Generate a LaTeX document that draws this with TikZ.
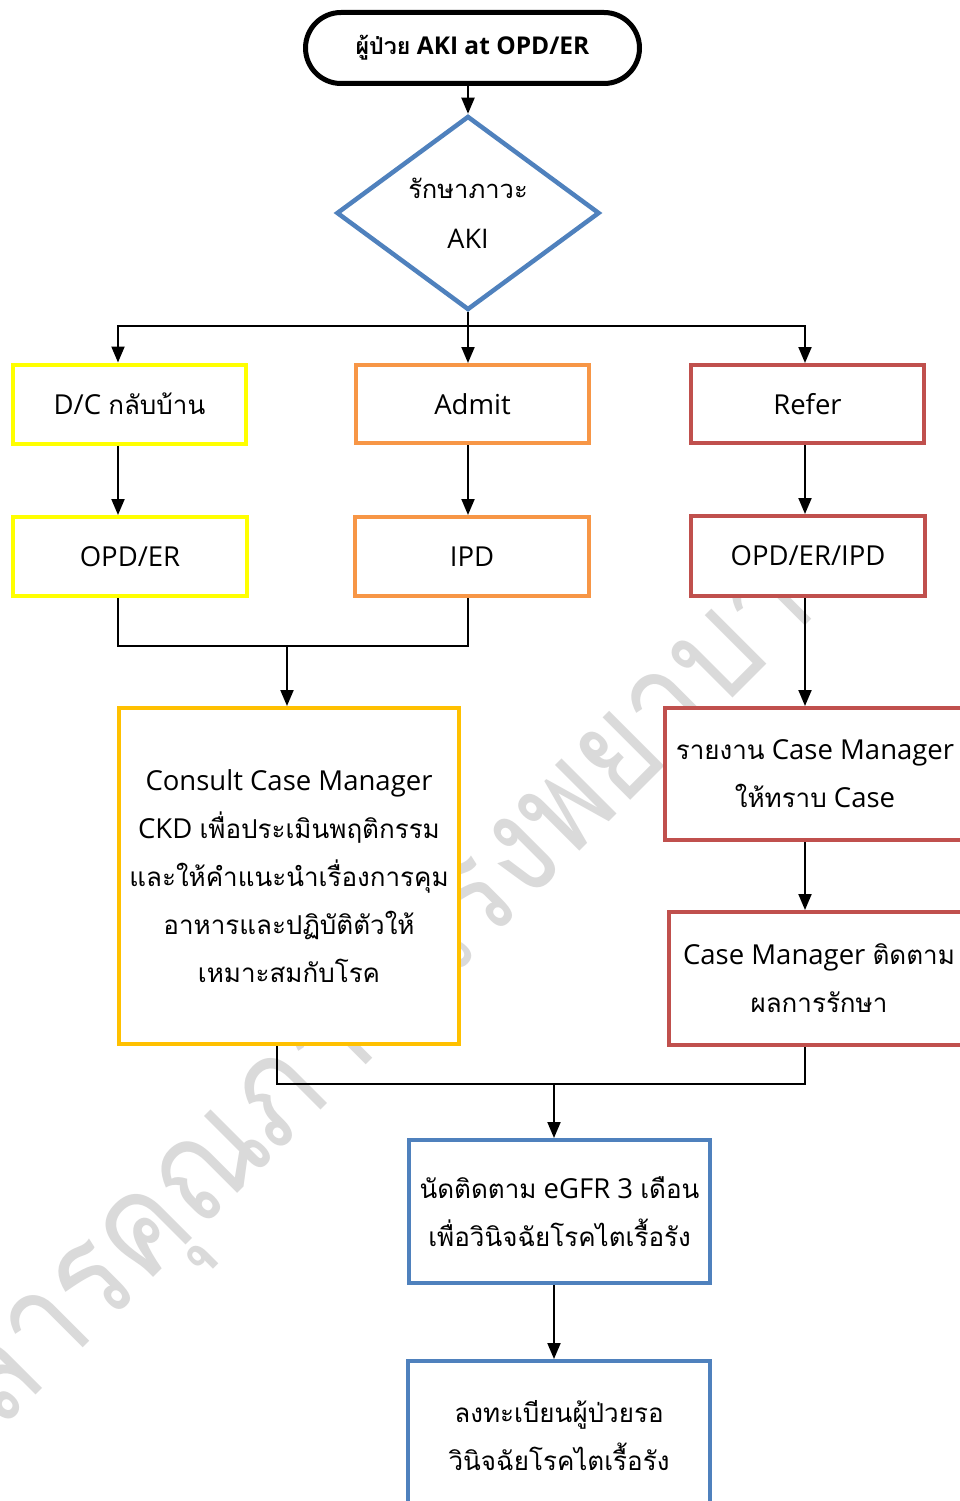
\documentclass[tikz,border=0pt]{standalone}
\usepackage{fontspec}
\setmainfont{Open Sans}
\newfontfamily\thaifont[Script=Thai, Scale=0.945]{Loma}
\newfontfamily\wmfont[Script=Thai, FakeStretch=0.85]{Loma}
\newcommand\thai[1]{{\thaifont #1}}
\usetikzlibrary{arrows.meta,shapes.geometric,shapes.misc}

\definecolor{ylwline}{HTML}{FFFF00}
\definecolor{orgline}{HTML}{F79646}
\definecolor{redline}{HTML}{C0504D}
\definecolor{goldline}{HTML}{FFC000}
\definecolor{blueline}{HTML}{4F81BD}
\definecolor{wmark}{HTML}{DADADA}

\begin{document}
\begin{tikzpicture}[x=1pt,y=-1pt,
  conn/.style={line width=2pt, black},
  arr/.style={conn, -{Triangle[width=13pt,length=16pt]}},
  boxnode/.style={draw, fill=white, line width=4pt, rectangle, inner sep=0pt, align=center,
    font=\fontsize{27.5}{48}\selectfont},
]
\clip (0,0) rectangle (960,1501);
\fill[white] (0,0) rectangle (960,1501);

% faint diagonal watermark behind the chart
\node[rotate=45, text=wmark, anchor=base west, inner sep=0pt,
  font=\wmfont\fontsize{140}{140}\selectfont] (wm) at (-131,1562) {เอกสารคุณภาพโรงพยาบาล};

% column guides for the connectors
\coordinate (c1) at (118,0);
\coordinate (c2) at (468,0);
\coordinate (c3) at (805,0);
\coordinate (c4) at (277,0);

% start and decision
\node[rounded rectangle, draw, fill=white, line width=5pt, minimum width=334, minimum height=71,
  inner sep=0pt, font=\bfseries\fontsize{24.5}{28}\selectfont] (start) at (472.5,48)
  {\thai{\bfseries ผู้ป่วย} AKI at OPD/ER};
\node[diamond, draw=blueline, fill=white, line width=4.5pt, minimum width=263, minimum height=194,
  inner sep=0pt, align=center, font=\fontsize{27}{50}\selectfont] (treat) at (468,213)
  {\thai{รักษาภาวะ}\\AKI};

% first row
\node[boxnode, draw=ylwline, minimum width=233, minimum height=79] (dc) at (129.5,404) {D/C \thai{กลับบ้าน}};
\node[boxnode, draw=orgline, minimum width=233, minimum height=78] (adm) at (472.5,404) {Admit};
\node[boxnode, draw=redline, minimum width=233, minimum height=78] (ref) at (807.5,404) {Refer};

% second row
\node[boxnode, draw=ylwline, minimum width=234, minimum height=79] (opd) at (130,556.5) {OPD/ER};
\node[boxnode, draw=orgline, minimum width=234, minimum height=79] (ipd) at (472,556.5) {IPD};
\node[boxnode, draw=redline, minimum width=234, minimum height=80] (oei) at (808,556) {OPD/ER/IPD};

% counselling and case manager steps
\node[boxnode, draw=goldline, minimum width=340, minimum height=336] (cons) at (289,876)
  {Consult Case Manager\\CKD \thai{เพื่อประเมินพฤติกรรม}\\\thai{และให้คำแนะนำเรื่องการคุม}\\\thai{อาหารและปฏิบัติตัวให้}\\\thai{เหมาะสมกับโรค}};
\node[boxnode, draw=redline, minimum width=300, minimum height=132] (rep) at (815,774)
  {\thai{รายงาน} Case Manager\\\thai{ให้ทราบ} Case};
\node[boxnode, draw=redline, minimum width=300, minimum height=133] (cm) at (819,978.5)
  {Case Manager \thai{ติดตาม}\\\thai{ผลการรักษา}};

% follow-up and registration
\node[boxnode, draw=blueline, minimum width=301, minimum height=143] (egfr) at (559.5,1211.5)
  {\thai{นัดติดตาม} eGFR 3 \thai{เดือน}\\\thai{เพื่อวินิจฉัยโรคไตเรื้อรัง}};
\node[boxnode, draw=blueline, minimum width=302, minimum height=150] (reg) at (559,1436)
  {\thai{ลงทะเบียนผู้ป่วยรอ}\\\thai{วินิจฉัยโรคไตเรื้อรัง}};

% junction points
\coordinate (fork) at (468,326);
\coordinate (m1) at (287,646);
\coordinate (m2) at (554,1084);

% connectors
\draw[arr] (start.south -| c2) -- (treat.north);
\draw[conn] (treat.south) -- (fork);
\draw[arr] (fork) -| ([xshift=-11.5pt]dc.north);
\draw[arr] (fork) -- ([xshift=-4.5pt]adm.north);
\draw[arr] (fork) -| ([xshift=-2.5pt]ref.north);

\draw[arr] (dc.south -| c1) -- (opd.north -| c1);
\draw[arr] (adm.south -| c2) -- (ipd.north -| c2);
\draw[arr] (ref.south -| c3) -- (oei.north -| c3);

\draw[conn] (opd.south -| c1) |- (m1) -| (ipd.south -| c2);
\draw[arr] (m1) -- (cons.north -| m1);

\draw[arr] (oei.south -| c3) -- (rep.north -| c3);
\draw[arr] (rep.south -| c3) -- (cm.north -| c3);

\draw[conn] (cons.south -| c4) |- (m2) -| (cm.south -| c3);
\draw[arr] (m2) -- (egfr.north -| m2);
\draw[arr] (egfr.south -| m2) -- (reg.north -| m2);
\end{tikzpicture}
\end{document}
